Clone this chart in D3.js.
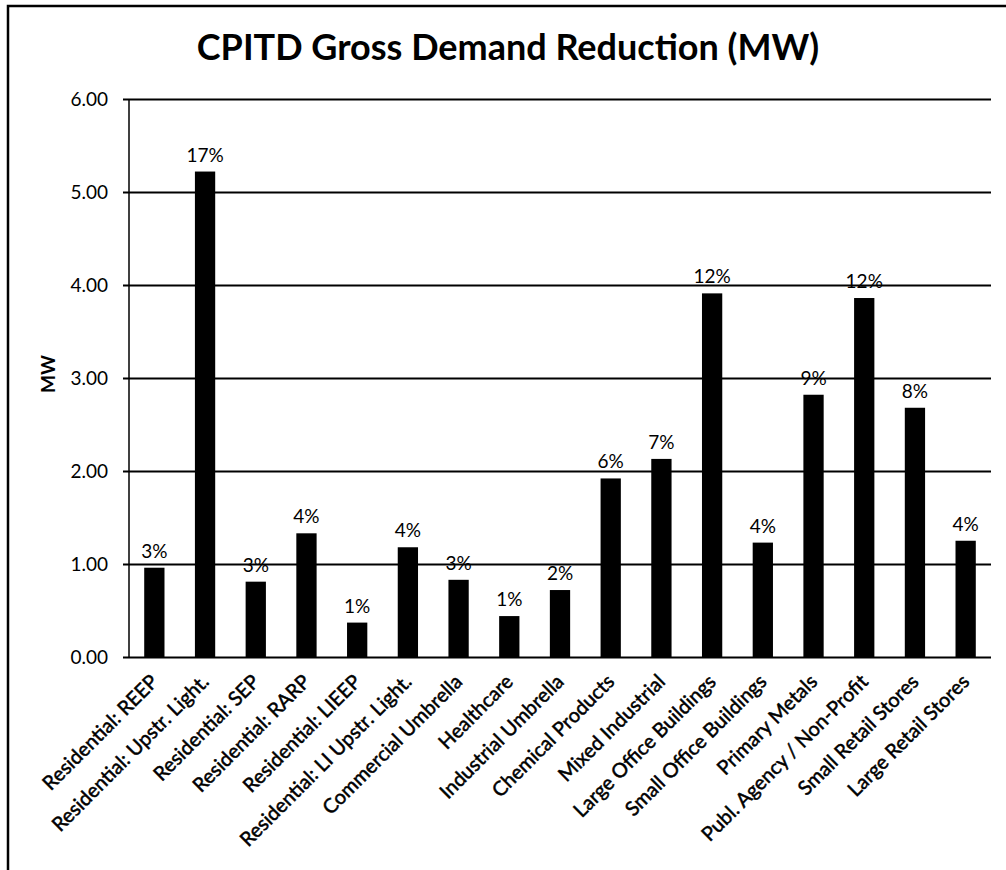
<!DOCTYPE html>
<html>
<head>
<meta charset="utf-8">
<script src="https://cdn.jsdelivr.net/npm/d3@7"></script>
<style>
  body { margin: 0; background: #fff; }
  svg { display: block; font-family: Lato, "Open Sans", sans-serif; }
</style>
</head>
<body>
<div id="chart"></div>
<script>
const categories = [
  "Residential: REEP", "Residential: Upstr. Light.", "Residential: SEP", "Residential: RARP",
  "Residential: LIEEP", "Residential: LI Upstr. Light.", "Commercial Umbrella", "Healthcare",
  "Industrial Umbrella", "Chemical Products", "Mixed Industrial", "Large Office Buildings",
  "Small Office Buildings", "Primary Metals", "Publ. Agency / Non-Profit", "Small Retail Stores",
  "Large Retail Stores"
];
const mw = [0.96, 5.22, 0.81, 1.33, 0.37, 1.18, 0.83, 0.44, 0.72, 1.92, 2.13, 3.91, 1.23, 2.82, 3.86, 2.68, 1.25];
const shares = ["3%", "17%", "3%", "4%", "1%", "4%", "3%", "1%", "2%", "6%", "7%", "12%", "4%", "9%", "12%", "8%", "4%"];
const yTicks = [0, 1, 2, 3, 4, 5, 6];

function renderBars() {
  const width = 1006, height = 870;
  const left = 129, right = 991, top = 99, bottom = 657;

  const svg = d3.select("#chart").append("svg")
    .attr("width", width)
    .attr("height", height);

  // outer frame (right/bottom edges fall outside the picture)
  svg.append("rect")
    .attr("x", 8).attr("y", 6)
    .attr("width", 1010).attr("height", 880)
    .attr("fill", "none")
    .attr("stroke", "#000")
    .attr("stroke-width", 2.5);

  svg.append("text")
    .attr("x", 508).attr("y", 60)
    .attr("text-anchor", "middle")
    .attr("font-size", 36)
    .attr("font-weight", "bold")
    .text("CPITD Gross Demand Reduction (MW)");

  const x = d3.scaleBand().domain(categories).range([left, right]).paddingInner(0.6).paddingOuter(0.3);
  const y = d3.scaleLinear().domain([0, 6]).range([bottom, top]);

  // gridlines + y ticks
  const yAxis = svg.append("g")
    .attr("transform", `translate(${left - 6},0)`)
    .call(d3.axisLeft(y).tickValues(yTicks).tickFormat(d3.format(".2f")).tickSize(-(right - left + 6)).tickPadding(15));
  yAxis.select(".domain").remove();
  yAxis.selectAll(".tick line").attr("stroke", "#000").attr("stroke-width", 1.8);
  yAxis.selectAll(".tick text")
    .attr("font-size", 19)
    .attr("font-family", "Lato, sans-serif")
    .attr("fill", "#000");

  // y axis line
  svg.append("line")
    .attr("x1", left).attr("x2", left)
    .attr("y1", top).attr("y2", bottom)
    .attr("stroke", "#000").attr("stroke-width", 1.5);

  svg.append("text")
    .attr("transform", `translate(55,374) rotate(-90)`)
    .attr("text-anchor", "middle")
    .attr("font-size", 19)
    .attr("font-weight", "bold")
    .text("MW");

  svg.selectAll(".bar")
    .data(categories)
    .enter()
    .append("rect")
    .attr("class", "bar")
    .attr("x", d => x(d))
    .attr("width", x.bandwidth())
    .attr("y", (d, i) => y(mw[i]))
    .attr("height", (d, i) => y(0) - y(mw[i]))
    .attr("fill", "#000");

  svg.selectAll(".pct")
    .data(categories)
    .enter()
    .append("text")
    .attr("class", "pct")
    .attr("x", d => x(d) + x.bandwidth() / 2)
    .attr("y", (d, i) => y(mw[i]) - 10)
    .attr("text-anchor", "middle")
    .attr("font-size", 19)
    .text((d, i) => shares[i]);

  svg.selectAll(".cat")
    .data(categories)
    .enter()
    .append("text")
    .attr("class", "cat")
    .attr("text-anchor", "end")
    .attr("font-size", 20)
    .attr("stroke", "#000")
    .attr("stroke-width", 0.5)
    .attr("transform", d => `translate(${x(d) + x.bandwidth() / 2 + 5},${bottom + 26}) rotate(-45)`)
    .text(d => d);
}

renderBars();
</script>
</body>
</html>
